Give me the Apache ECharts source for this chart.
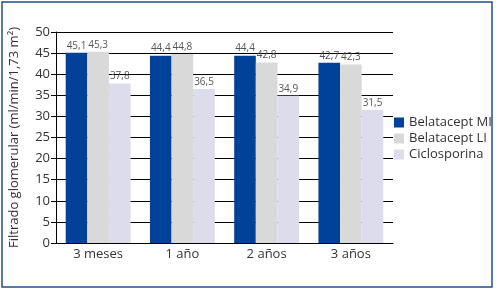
<!DOCTYPE html>
<html>
<head>
<meta charset="utf-8">
<script src="https://cdn.jsdelivr.net/npm/echarts@6/dist/echarts.min.js"></script>
<style>
  html, body { margin: 0; padding: 0; background: #fff; }
  #main { width: 496px; height: 292px; }
</style>
</head>
<body>
<div id="main"></div>
<script>
var categories = ['3 meses', '1 año', '2 años', '3 años'];
var belatMI = [45.1, 44.4, 44.4, 42.7];
var belatLI = [45.3, 44.8, 42.8, 42.3];
var ciclo = [37.8, 36.5, 34.9, 31.5];
var seriesNames = ['Belatacept MI', 'Belatacept LI', 'Ciclosporina'];
var colors = ['#00419a', '#d9d9d9', '#dcdcec'];

var chart = echarts.init(document.getElementById('main'));
var font = 'Open Sans';

function mk(name, data, color) {
  return {
    name: name,
    type: 'bar',
    data: data,
    barGap: '0%',
    barCategoryGap: '23%',
    itemStyle: { color: color },
    label: {
      show: true,
      position: 'top',
      distance: 2,
      fontFamily: font,
      fontSize: 10,
      color: '#555',
      formatter: function (p) { return String(p.value).replace('.', ','); }
    }
  };
}

var option = {
  animation: false,
  textStyle: { fontFamily: font },
  grid: { left: 50, right: 103, top: 32, bottom: 49 },
  legend: {
    orient: 'vertical',
    left: 389,
    top: 111,
    itemWidth: 10,
    itemHeight: 10,
    itemGap: 3,
    icon: 'rect',
    textStyle: { fontFamily: font, fontSize: 13, color: '#333' },
    data: seriesNames
  },
  xAxis: {
    type: 'category',
    data: categories,
    axisLine: { lineStyle: { color: '#000' } },
    axisTick: { show: false },
    axisLabel: { fontFamily: font, fontSize: 13, color: '#333', margin: 5 }
  },
  yAxis: {
    type: 'value',
    min: 0,
    max: 50,
    interval: 5,
    name: 'Filtrado glomerular (ml/min/1,73 m²)',
    nameLocation: 'middle',
    nameGap: 35,
    nameTextStyle: { fontFamily: font, fontSize: 13, color: '#333' },
    axisLine: { show: true, lineStyle: { color: '#000' } },
    axisTick: { show: true, length: 5, lineStyle: { color: '#000' } },
    axisLabel: { fontFamily: font, fontSize: 13, color: '#333', margin: 6 },
    splitLine: { lineStyle: { color: '#000', width: 1 } }
  },
  graphic: [{
    type: 'rect',
    shape: { x: 2, y: 2, width: 490, height: 285 },
    style: { fill: null, stroke: '#1f4f95', lineWidth: 1.5 },
    silent: true
  }],
  series: [
    mk(seriesNames[0], belatMI, colors[0]),
    mk(seriesNames[1], belatLI, colors[1]),
    mk(seriesNames[2], ciclo, colors[2])
  ]
};
chart.setOption(option);
</script>
</body>
</html>
